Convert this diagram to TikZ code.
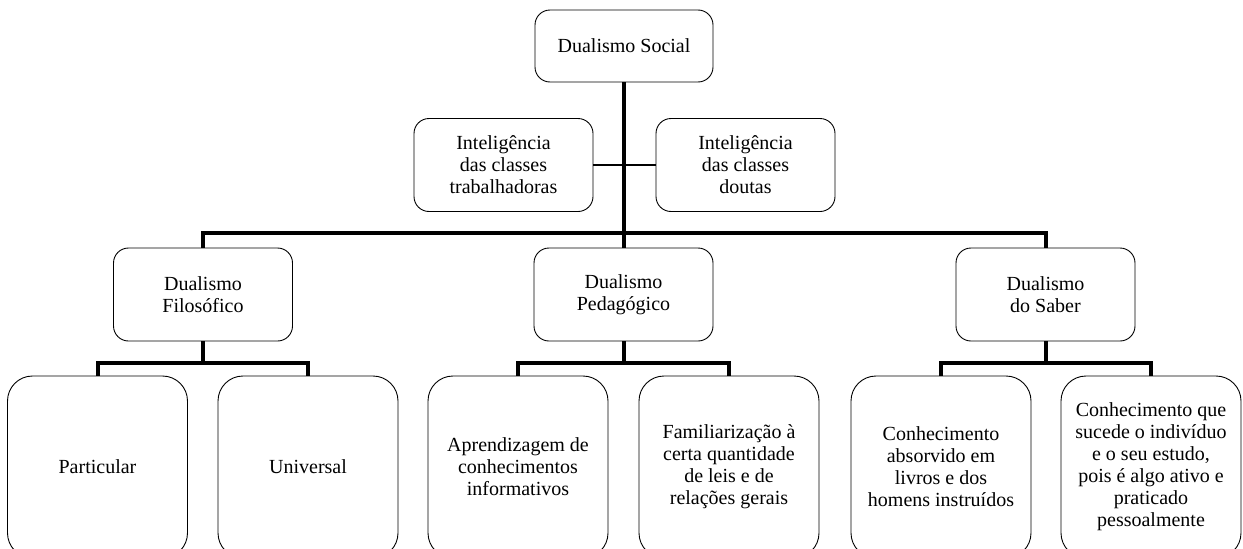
\documentclass[tikz,border=0pt]{standalone}
\usepackage{fontspec}
\setmainfont{Liberation Serif}
\begin{document}
\begin{tikzpicture}[x=1pt,y=1pt,
  box/.style={draw,line width=0.9pt,rounded corners=15pt,align=center,inner sep=0pt,
    font=\fontsize{20}{22}\selectfont},
  head/.style={box,minimum width=179pt,minimum height=93pt},
  leaf/.style={box,rounded corners=25pt,minimum width=180pt,minimum height=182pt},
  trunk/.style={line width=4pt},
  branch/.style={line width=2.5pt}]
\useasboundingbox (0,0) rectangle (1243,-549);

% Top
\node[box,minimum width=178pt,minimum height=72pt] (social) at (624,-46) {Dualismo Social};
\node[head] (trab) at (503.5,-165) {Inteligência\\das classes\\trabalhadoras};
\node[head] (doutas) at (745.5,-165) {Inteligência\\das classes\\doutas};

% Second level
\node[head] (filo) at (203,-294.5) {Dualismo\\Filosófico};
\node[head] (pedag) at (623.5,-294.5) {Dualismo\\Pedagógico};
\node[head] (saber) at (1045.5,-294.5) {Dualismo\\do Saber};

% Leaves
\node[leaf] (part) at (97.5,-467) {Particular};
\node[leaf] (univ) at (308,-467) {Universal};
\node[leaf] (aprend) at (518,-467) {Aprendizagem de\\conhecimentos\\informativos};
\node[leaf] (famil) at (729,-467) {Familiarização à\\certa quantidade\\de leis e de\\relações gerais};
\node[leaf] (absorv) at (941,-467) {Conhecimento\\absorvido em\\livros e dos\\homens instruídos};
\node[leaf] (pratic) at (1151,-467) {Conhecimento que\\sucede o indivíduo\\e o seu estudo,\\pois é algo ativo e\\praticado\\pessoalmente};

% Connectors
\draw[branch] (trab.east) -- (doutas.west);
\draw[trunk] (social.south) -- (social.south |- pedag.north);
\draw[trunk] (filo.north) -- ++(0,15) -| (saber.north);
\foreach \p/\l/\r in {filo/part/univ,pedag/aprend/famil,saber/absorv/pratic}{
  \draw[trunk] (\p.south) -- ++(0,-22);
  \draw[trunk] (\l.north) -- ++(0,13) -| (\r.north);
}
\end{tikzpicture}
\end{document}
